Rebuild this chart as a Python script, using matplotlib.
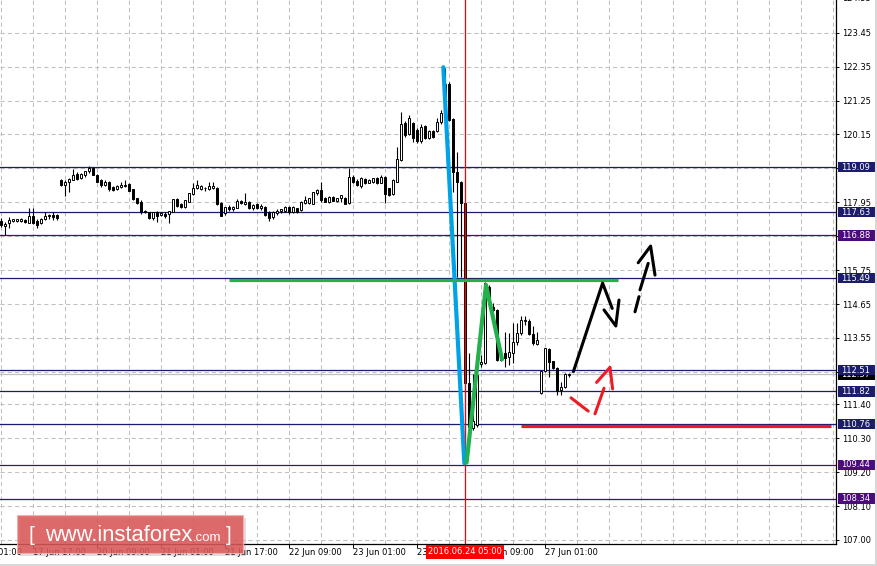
import matplotlib

matplotlib.use("Agg")
import matplotlib.pyplot as plt
import numpy as np
from matplotlib.lines import Line2D
from matplotlib.patches import FancyBboxPatch, Rectangle
from matplotlib.transforms import blended_transform_factory

# H1 bars, bar 0 = 17 Jun 17:00, first visible bar is -8
FIRST_BAR = -8
opens = [
    117.35, 117.17, 117.29, 117.33, 117.34, 117.34, 117.38, 117.29, 117.51, 117.35,
    117.29, 117.41, 117.50, 117.54, 117.54, 118.68, 118.51, 118.62, 118.68, 118.87,
    118.73, 118.82, 118.95, 119.06, 118.84, 118.68, 118.51, 118.62, 118.46, 118.37,
    118.46, 118.50, 118.54, 118.37, 118.08, 117.97, 117.68, 117.63, 117.43, 117.65,
    117.54, 117.58, 117.56, 117.65, 118.05, 117.90, 117.79, 117.97, 118.21, 118.43,
    118.37, 118.40, 118.37, 118.40, 118.43, 117.94, 117.60, 117.79, 117.72, 117.78,
    118.00, 117.90, 117.95, 117.75, 117.88, 117.76, 117.81, 117.64, 117.48, 117.60,
    117.66, 117.66, 117.80, 117.64, 117.75, 117.70, 117.94, 117.94, 117.91, 118.24,
    118.35, 118.08, 117.97, 118.11, 118.00, 118.08, 118.10, 117.94, 118.78, 118.65,
    118.48, 118.71, 118.59, 118.62, 118.73, 118.59, 118.78, 118.40, 118.21, 118.62,
    119.32, 120.53, 120.17, 120.51, 120.29, 119.95, 120.44, 120.04, 120.27, 120.27,
    120.57, 120.84, 121.79, 120.65, 118.94, 118.62, 117.94, 112.08, 110.62, 110.73,
    112.70, 112.75, 115.20, 114.57, 114.46, 112.95, 113.05, 112.92, 113.05, 113.43,
    113.70, 114.10, 114.11, 113.68, 113.34, 111.76, 112.49, 113.19, 112.80, 112.57,
    111.86, 111.95, 112.35,
]
highs = [
    117.43, 117.30, 117.46, 117.41, 117.41, 117.44, 117.40, 117.76, 117.76, 117.40,
    117.43, 117.63, 117.58, 117.63, 117.56, 118.70, 118.68, 118.75, 119.03, 118.92,
    118.90, 118.98, 119.13, 119.08, 118.86, 118.70, 118.66, 118.64, 118.48, 118.50,
    118.60, 118.66, 118.56, 118.39, 118.10, 118.01, 117.70, 117.65, 117.65, 117.67,
    117.63, 117.62, 117.67, 118.06, 118.08, 117.92, 118.03, 118.24, 118.57, 118.68,
    118.50, 118.45, 118.62, 118.62, 118.46, 117.96, 117.80, 117.86, 117.84, 118.05,
    118.04, 118.24, 117.98, 117.88, 117.92, 117.88, 117.84, 117.68, 117.66, 117.72,
    117.74, 117.84, 117.84, 117.83, 117.78, 117.99, 118.15, 118.10, 118.30, 118.38,
    118.62, 118.12, 118.14, 118.14, 118.10, 118.20, 118.12, 119.05, 118.82, 118.70,
    118.76, 118.74, 118.70, 118.75, 118.76, 118.82, 118.81, 118.42, 118.70, 119.73,
    120.89, 120.58, 120.78, 120.55, 120.37, 120.49, 120.47, 120.30, 120.30, 120.67,
    120.95, 122.30, 121.85, 120.68, 119.59, 118.65, 117.96, 113.05, 112.38, 113.00,
    113.00, 115.36, 115.28, 114.70, 114.50, 113.05, 113.75, 113.70, 114.03, 114.03,
    114.26, 114.26, 114.16, 113.94, 113.75, 112.49, 113.24, 113.22, 112.82, 112.60,
    112.13, 112.40, 112.42,
]
lows = [
    117.16, 116.89, 117.11, 117.30, 117.32, 117.30, 117.27, 117.27, 117.25, 117.11,
    117.25, 117.36, 117.41, 117.38, 117.36, 118.49, 118.17, 118.30, 118.66, 118.68,
    118.70, 118.78, 118.89, 118.82, 118.60, 118.46, 118.49, 118.33, 118.33, 118.35,
    118.41, 118.44, 118.31, 118.02, 117.90, 117.57, 117.60, 117.40, 117.38, 117.30,
    117.50, 117.45, 117.29, 117.63, 117.80, 117.77, 117.77, 117.95, 118.19, 118.37,
    118.35, 118.33, 118.35, 118.37, 117.87, 117.50, 117.55, 117.66, 117.68, 117.76,
    117.88, 117.86, 117.72, 117.70, 117.72, 117.70, 117.50, 117.35, 117.40, 117.55,
    117.60, 117.62, 117.58, 117.60, 117.60, 117.66, 117.90, 117.90, 117.88, 118.20,
    117.97, 117.95, 117.94, 117.98, 117.95, 117.96, 117.88, 117.90, 118.58, 118.48,
    118.40, 118.54, 118.56, 118.58, 118.55, 118.56, 117.94, 118.15, 118.18, 118.60,
    119.28, 120.06, 120.12, 119.92, 119.88, 119.86, 119.99, 120.00, 120.05, 120.24,
    120.50, 120.80, 120.60, 118.30, 115.54, 115.54, 109.50, 110.55, 110.57, 110.67,
    112.60, 112.70, 114.55, 114.40, 112.80, 112.80, 112.62, 112.67, 112.73, 113.32,
    113.65, 113.97, 113.65, 113.32, 113.32, 111.72, 112.45, 112.28, 112.53, 111.70,
    111.70, 111.93, 112.30,
]
closes = [
    117.22, 117.25, 117.38, 117.40, 117.40, 117.42, 117.30, 117.51, 117.27, 117.22,
    117.41, 117.52, 117.54, 117.47, 117.43, 118.51, 118.62, 118.70, 118.84, 118.70,
    118.87, 118.95, 119.06, 118.84, 118.62, 118.51, 118.62, 118.37, 118.35, 118.48,
    118.50, 118.48, 118.33, 118.05, 117.92, 117.65, 117.62, 117.43, 117.63, 117.51,
    117.60, 117.50, 117.67, 118.05, 117.83, 117.79, 118.01, 118.24, 118.43, 118.52,
    118.48, 118.42, 118.48, 118.48, 117.89, 117.52, 117.79, 117.72, 117.80, 118.00,
    117.92, 117.97, 117.75, 117.86, 117.76, 117.84, 117.54, 117.43, 117.62, 117.68,
    117.72, 117.80, 117.62, 117.80, 117.64, 117.97, 118.04, 118.08, 118.29, 118.35,
    118.02, 117.97, 118.11, 118.00, 118.08, 118.18, 117.91, 118.78, 118.62, 118.51,
    118.73, 118.57, 118.67, 118.73, 118.57, 118.78, 118.21, 118.19, 118.67, 119.34,
    120.49, 120.13, 120.67, 120.02, 119.95, 120.40, 120.02, 120.27, 120.08, 120.57,
    120.84, 121.79, 120.62, 118.94, 118.62, 117.92, 112.08, 110.65, 110.86, 112.35,
    112.78, 115.32, 114.65, 114.46, 112.84, 112.84, 112.89, 113.11, 113.43, 113.70,
    114.13, 114.12, 113.68, 113.38, 113.48, 112.49, 113.22, 112.78, 112.57, 111.84,
    111.97, 112.37, 112.37,
]

time_ticks = [-16, 0, 16, 32, 48, 64, 80, 96, 112, 128]
time_labels = ["17 Jun 01:00", "17 Jun 17:00", "20 Jun 09:00", "21 Jun 01:00",
               "21 Jun 17:00", "22 Jun 09:00", "23 Jun 01:00", "23 Jun 17:00",
               "24 Jun 09:00", "27 Jun 01:00"]
price_ticks = [107.00, 108.10, 109.20, 110.30, 111.40, 112.45, 113.55, 114.65,
               115.75, 116.85, 117.95, 119.05, 120.15, 121.25, 122.35, 123.45]
top_price_label = 124.55

navy_levels = [119.09, 117.63, 115.49, 112.51, 111.82, 110.76]
purple_levels = [116.88, 109.44, 108.34]
bid_price = 112.37
cursor_bar = 108
cursor_label = "2016.06.24 05:00"

# hand drawn analysis lines (bar index, price)
blue_x, blue_y = [102.58, 107.83], [122.33, 109.49]
green_x, green_y = [108.4, 113.25, 117.25], [109.51, 115.27, 112.86]
green_level_x, green_level = [49, 146.25], 115.42
red_level_x, red_level = [122, 199.4], 110.70
red_segments = [
    ([134.5, 138.8], [111.61, 111.18]),
    ([140.5, 142.75], [111.09, 111.92]),
    ([140.9, 144.25, 144.9], [112.11, 112.60, 111.90]),
]
black_segments = [
    ([135.1, 142.4, 144.8], [112.46, 115.33, 114.51]),
    ([142.75, 145.7, 146.5], [114.46, 113.94, 114.78]),
    ([150.5, 151.5], [114.40, 114.89]),
    ([151.75, 153.8], [115.11, 115.97]),
    ([151.3, 154.4, 155.5], [115.99, 116.53, 115.59]),
]

NAVY = "#1c1c6c"
PURPLE = "#4b0b7b"
W, H = 877, 566

fig = plt.figure(figsize=(W / 100, H / 100), dpi=100)
ax = fig.add_axes([0, 22 / H, 836 / W, 544 / H])
ax.set_xlim(-8.25, 200.75)
ax.set_ylim(106.87, 124.51)

for side in ("left", "top"):
    ax.spines[side].set_visible(False)
for side in ("right", "bottom"):
    ax.spines[side].set_linewidth(0.9)

grid_style = dict(color="#c0c0c0", linewidth=0.75, linestyle=(0, (4, 3)))
ax.yaxis.tick_right()
ax.set_yticks(price_ticks)
ax.set_yticklabels([f"{p:.2f}" for p in price_ticks])
ax.tick_params(axis="y", direction="out", length=2.2, width=0.7, pad=2.2, labelsize=6)
ax.set_xticks(time_ticks[1:])
ax.set_xticklabels([])
ax.set_xticks(np.arange(-8, 201, 8), minor=True)
ax.tick_params(axis="x", which="major", direction="out", length=2.8, width=0.7)
ax.tick_params(axis="x", which="minor", length=0)
ax.grid(True, which="both", axis="x", **grid_style)
ax.grid(True, which="major", axis="y", **grid_style)
ax.set_axisbelow(True)

xtr = blended_transform_factory(ax.transData, ax.transAxes)
ytr = blended_transform_factory(ax.transAxes, ax.transData)
for t, lab in zip(time_ticks, time_labels):
    ax.text(t + 0.1, -0.008, lab, transform=xtr, ha="left", va="top", fontsize=6, clip_on=False)
ax.text(842 / 836, top_price_label, f"{top_price_label:.2f}", transform=ytr, ha="left",
        va="center", fontsize=6, clip_on=False)

# level lines
for lvl in navy_levels:
    ax.axhline(lvl, color=NAVY, linewidth=0.9, zorder=1.5)
for lvl in purple_levels:
    ax.axhline(lvl, color=PURPLE, linewidth=0.9, zorder=1.5)
ax.axhline(bid_price, color="#c0c0c0", linewidth=0.9, zorder=1.4)

# candles
bars = np.arange(FIRST_BAR, FIRST_BAR + len(opens))
o, h, l, c = map(np.array, (opens, highs, lows, closes))
ax.vlines(bars, l, h, color="black", linewidth=0.8, zorder=3)
up = c >= o
ax.bar(bars[up], (c - o)[up], bottom=o[up], width=0.6, facecolor="white",
       edgecolor="black", linewidth=0.7, zorder=3.2)
ax.bar(bars[~up], (o - c)[~up], bottom=c[~up], width=0.6, facecolor="black",
       edgecolor="black", linewidth=0.7, zorder=3.2)

ax.axvline(cursor_bar, color="#ff0000", linewidth=0.9, zorder=3.5)

# analysis drawing
line_kw = dict(solid_capstyle="round", solid_joinstyle="round", zorder=4)
ax.plot(blue_x, blue_y, color="#00a2e8", linewidth=3.0, **line_kw)
ax.plot(green_x, green_y, color="#22b14c", linewidth=3.0, **line_kw)
ax.plot(green_level_x, [green_level] * 2, color="#22b14c", linewidth=2.3, solid_capstyle="butt", zorder=4)
ax.plot(red_level_x, [red_level] * 2, color="#ed1c24", linewidth=2.3, solid_capstyle="butt", zorder=4)
for xs, ys in red_segments:
    ax.plot(xs, ys, color="#ed1c24", linewidth=2.2, **line_kw)
for xs, ys in black_segments:
    ax.plot(xs, ys, color="black", linewidth=2.2, **line_kw)

# price boxes on the right scale
def price_box(level, color, zorder):
    ax.add_patch(Rectangle((838 / 836, level - 0.17), 37 / 836, 0.34, transform=ytr,
                           facecolor=color, edgecolor="none", clip_on=False, zorder=zorder))
    ax.text(841 / 836, level, f"{level:.2f}", transform=ytr, ha="left", va="center",
            fontsize=6, color="white", clip_on=False, zorder=zorder + 0.1)

price_box(bid_price, "black", 6)
for lvl in navy_levels:
    price_box(lvl, NAVY, 7)
for lvl in purple_levels:
    price_box(lvl, PURPLE, 7)

ax.text(cursor_bar, -0.006, cursor_label, transform=xtr, ha="center", va="top", fontsize=6,
        color="white", clip_on=False, zorder=8,
        bbox=dict(boxstyle="square,pad=0.3", facecolor="#ff0000", edgecolor="none"))

# watermark logo
fig.add_artist(FancyBboxPatch((20 / W, 1 - 556 / H), 226 / W, 38 / H, boxstyle="square,pad=0",
                              transform=fig.transFigure, facecolor="#808080", alpha=0.25,
                              edgecolor="none", zorder=5))
fig.add_artist(FancyBboxPatch((17 / W, 1 - 553 / H), 226 / W, 38 / H, boxstyle="square,pad=0",
                              transform=fig.transFigure, facecolor="#dc5656", alpha=0.85,
                              edgecolor="#f2b0b0", linewidth=0.8, zorder=6))
base_y = 1 - 541 / H
fig.text(29 / W, base_y, "[", color="white", fontsize=15, family="Liberation Sans", zorder=7)
fig.text(45 / W, base_y, "www.instaforex", color="white", fontsize=15.8,
         family="Liberation Sans", zorder=7)
fig.text(193 / W, base_y, ".com", color="white", fontsize=9.5, family="Liberation Sans", zorder=7)
fig.text(226 / W, base_y, "]", color="white", fontsize=15, family="Liberation Sans", zorder=7)

# window border
fig.add_artist(Line2D([0, 1], [1 / H, 1 / H], transform=fig.transFigure, color="#d8d8d8", linewidth=1.5))
fig.add_artist(Line2D([1 - 1 / W, 1 - 1 / W], [0, 1], transform=fig.transFigure, color="#d8d8d8", linewidth=1.5))

fig.savefig("out.png", dpi=100)
plt.close(fig)
